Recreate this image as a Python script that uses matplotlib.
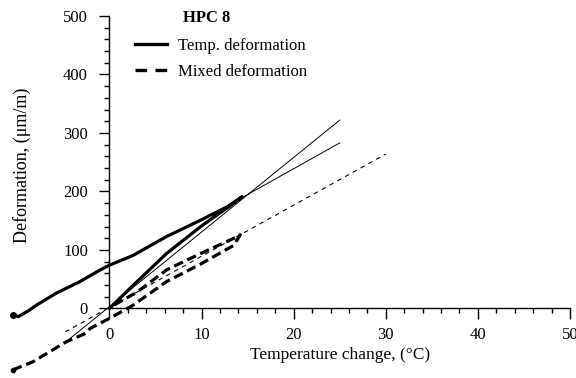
import numpy as np
import matplotlib
matplotlib.use("Agg")
import matplotlib.pyplot as plt
from matplotlib.lines import Line2D
from matplotlib.ticker import FixedLocator

plt.rcParams["font.family"] = ["Liberation Serif", "DejaVu Serif"]

# HPC 8 - deformação térmica (laço aquecimento / resfriamento)
temp_x = [-10.5, -9.9, -8.8, -7.9, -5.8, -3.2, -1.0, 0.0, 2.6, 6.2, 9.9, 12.8, 14.4,
          13.5, 9.9, 6.2, 2.6, 0.0]
temp_y = [-11, -14, -4, 6, 26, 46, 66, 74, 91, 123, 151, 174, 191,
          180, 140, 94, 40, 0]

# deformação mista
mixed_x = [-10.5, -8.3, -6.5, -4.7, -2.5, -2.1, 0.0, 2.5, 4.4, 6.2, 9.9, 13.5, 14.2,
           13.5, 9.9, 6.2, 3.0, 0.4]
mixed_y = [-105, -91, -74, -57, -42, -34, -17, 5, 26, 46, 76, 108, 126,
           120, 94, 66, 28, 5]

# retas de ajuste (extrapolação)
fit1_x = [-4.8, 25.0]
fit1_y = [-58, 322]
fit2_x = [14.0, 25.0]
fit2_y = [186, 283]
fit3_x = [-4.8, 30.0]
fit3_y = [-40, 264]

xticks = [0, 10, 20, 30, 40, 50]
yticks = [0, 100, 200, 300, 400, 500]

fig = plt.figure(figsize=(5.76, 3.78), dpi=100)
ax = fig.add_axes([0.01736, 0.0106, 0.977, 0.9548])

thick = 2.3
ax.plot(temp_x, temp_y, color="black", lw=thick, solid_capstyle="round",
        marker="o", markersize=4, markevery=[0])
ax.plot(mixed_x, mixed_y, color="black", lw=thick, linestyle=(0, (3, 1.5)),
        marker="o", markersize=3, markevery=[0])
ax.plot(fit1_x, fit1_y, color="black", lw=0.7)
ax.plot(fit2_x, fit2_y, color="black", lw=0.7)
ax.plot(fit3_x, fit3_y, color="black", lw=0.8, linestyle=(0, (4, 4)))

ax.set_xlim(-10.8, 50.3)
ax.set_ylim(-112, 505)

# eixos cruzando na origem
for s in ["top", "right"]:
    ax.spines[s].set_visible(False)
ax.spines["left"].set_position(("data", 0))
ax.spines["bottom"].set_position(("data", 0))
ax.spines["left"].set_bounds(0, 500)
ax.spines["bottom"].set_bounds(0, 50)
ax.spines["left"].set_linewidth(1.0)
ax.spines["bottom"].set_linewidth(1.0)

ax.set_xticks(xticks)
ax.set_yticks(yticks)
ax.xaxis.set_minor_locator(FixedLocator(np.arange(0, 51, 2)))
ax.yaxis.set_minor_locator(FixedLocator(np.arange(0, 501, 20)))
ax.tick_params(axis="x", which="major", direction="out", length=8, width=1,
               pad=5, labelsize=12)
ax.tick_params(axis="x", which="minor", direction="out", length=3.5, width=1)
ax.tick_params(axis="y", which="major", direction="out", length=7, width=1,
               pad=8.5, labelsize=12)
ax.tick_params(axis="y", which="minor", direction="out", length=3.5, width=1)

ax.text(25, -79, "Temperature change, (°C)", ha="center", va="center", fontsize=12.5)
ax.text(-9.5, 244, "Deformation, (μm/m)", ha="center", va="center",
        rotation=90, fontsize=13)

# legenda
ax.text(8.0, 497, "HPC 8", ha="left", va="center", fontsize=12, fontweight="bold")
handles = [
    Line2D([], [], color="black", lw=2.4),
    Line2D([], [], color="black", lw=2.4, linestyle=(0, (3.5, 2.5))),
]
ax.legend(handles, ["Temp. deformation", "Mixed deformation"],
          loc="upper left", bbox_to_anchor=(0.222, 0.932), frameon=False,
          fontsize=12, handlelength=1.9, handletextpad=0.66,
          labelspacing=0.6, borderpad=0, borderaxespad=0)

fig.savefig("out.png", dpi=100)
